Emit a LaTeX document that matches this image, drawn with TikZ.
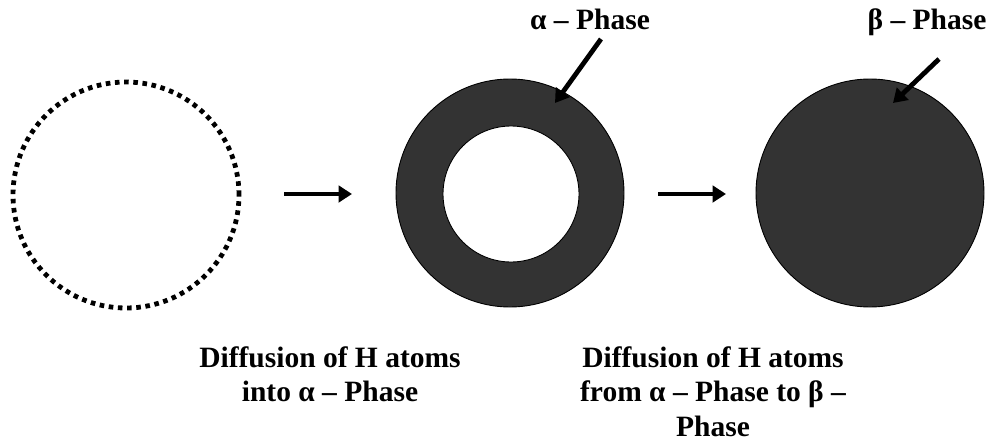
\documentclass[tikz,border=0pt]{standalone}
\usepackage{fontspec}
\setmainfont{Liberation Serif}
\usetikzlibrary{arrows.meta}
\definecolor{phasefill}{RGB}{51,51,51}
\begin{document}
\begin{tikzpicture}[x=1pt,y=-1pt,
  lbl/.style={font=\fontsize{29.5}{34.5}\selectfont\bfseries, inner sep=0pt, align=center},
  fatarrow/.style={line width=4.8pt, -{Triangle[length=13.5pt,width=16.5pt]}},
  phasedisk/.style={circle, draw=black, line width=0.9pt, fill=phasefill, minimum size=228pt, inner sep=0pt},
  holedisk/.style={circle, draw=black, line width=0.9pt, fill=white, minimum size=136pt, inner sep=0pt},
  dotcircle/.style={circle, draw=black, line width=4.8pt, dash pattern=on 4.6pt off 4.6pt, minimum size=226pt, inner sep=0pt}]
\useasboundingbox (0,0) rectangle (994,442);
\node[dotcircle] (start) at (126,195) {};
\node[phasedisk] (ring) at (510,193) {};
\node[holedisk] (hole) at (511,194) {};
\node[phasedisk] (full) at (870,193) {};
% process arrows
\coordinate (a1s) at (284,194);
\coordinate (a1e) at (352,194);
\coordinate (a2s) at (658,194);
\coordinate (a2e) at (726,194);
\draw[fatarrow] (a1s) -- (a1e);
\draw[fatarrow] (a2s) -- (a2e);
% labels
\node[lbl, anchor=base] (alpha) at (590,29) {α – Phase};
\node[lbl, anchor=base] (beta) at (927,29) {β – Phase};
\coordinate (pa1) at (601,39);
\coordinate (pa2) at (555,103);
\coordinate (pb1) at (939,59);
\coordinate (pb2) at (893,103);
\draw[fatarrow] (pa1) -- (pa2);
\draw[fatarrow] (pb1) -- (pb2);
\node[lbl, anchor=base] (cap1) at (330,401.5) {Diffusion of H atoms\\into α – Phase};
\node[lbl, anchor=base] (cap2) at (713,436) {Diffusion of H atoms\\from α – Phase to β –\\Phase};
\end{tikzpicture}
\end{document}
